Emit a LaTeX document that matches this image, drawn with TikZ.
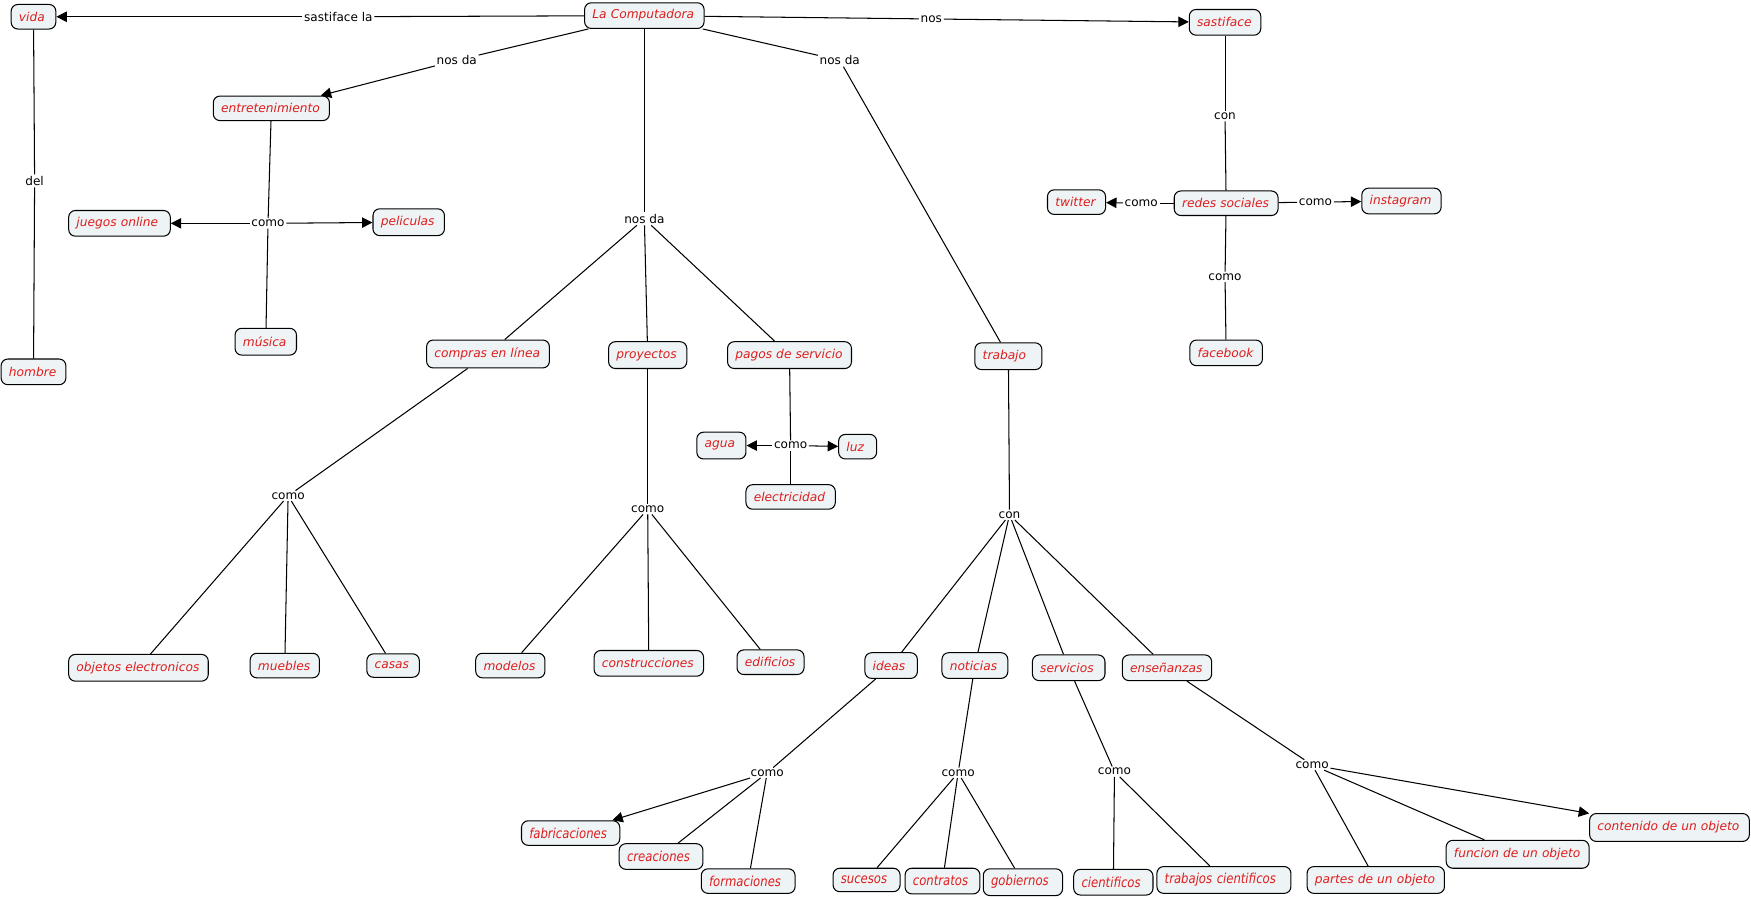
\documentclass[tikz,border=0pt]{standalone}
\usepackage{fontspec}
\setmainfont{DejaVu Sans}
\newfontfamily\condfont[FakeStretch=0.85]{DejaVu Sans}
\usetikzlibrary{arrows.meta}
\newlength\pxu
\setlength\pxu{0.75pt}
\definecolor{cfill}{RGB}{238,243,245}
\definecolor{ctext}{RGB}{222,30,30}
\tikzset{
  cpt/.style={draw=black, line width=0.7pt, fill=cfill, rounded corners=4.5pt,
    font=\fontsize{8.2pt}{9.5pt}\selectfont\itshape, text=ctext,
    inner xsep=7\pxu, inner ysep=1pt, minimum height=23\pxu},
  bw/.style={minimum width=#1\pxu, text width={(#1-14)*0.75pt}, align=left},
  cond/.style={font=\condfont\fontsize{9.2pt}{10pt}\selectfont\itshape},
  lbl/.style={fill=white, inner sep=1pt, font=\fontsize{8.1pt}{9.5pt}\selectfont, text=black},
  ln/.style={line width=0.7pt, draw=black},
  arr/.style={ln, -{Triangle[length=7pt,width=7pt]}}
}
\begin{document}
\begin{tikzpicture}[x=0.75pt,y=-0.75pt]
\useasboundingbox (0,0) rectangle (1568,805);
% concepts
\node[cpt, bw=40, minimum height=22\pxu] (vida) at (30,15) {vida};
\node[cpt, bw=107] (comp) at (577,14) {La Computadora};
\node[cpt, bw=64] (sast) at (1097,20) {sastiface};
\node[cpt, bw=104, minimum height=22\pxu] (entre) at (243,97) {entretenimiento};
\node[cpt, bw=91] (juegos) at (107,200) {juegos online};
\node[cpt, bw=64, minimum height=24\pxu] (pelis) at (366,199) {peliculas};
\node[cpt, bw=55, minimum height=24\pxu] (musica) at (238,306) {música};
\node[cpt, bw=58] (hombre) at (30,333) {hombre};
\node[cpt, bw=110, minimum height=25\pxu] (compras) at (437,317) {compras en línea};
\node[cpt, bw=70, minimum height=24\pxu] (proy) at (580,318) {proyectos};
\node[cpt, bw=111, minimum height=24\pxu] (pagos) at (707,318) {pagos de servicio};
\node[cpt, bw=60, minimum height=24\pxu] (trabajo) at (903,319) {trabajo};
\node[cpt, bw=52, minimum height=22\pxu] (twitter) at (964,181) {twitter};
\node[cpt, bw=93, minimum height=22\pxu] (redes) at (1098,182) {redes sociales};
\node[cpt, bw=71] (insta) at (1255,180) {instagram};
\node[cpt, bw=65] (face) at (1098,316) {facebook};
\node[cpt, bw=44, minimum height=24\pxu] (agua) at (646,399) {agua};
\node[cpt, bw=34, minimum height=22\pxu] (luz) at (768,400) {luz};
\node[cpt, bw=80, minimum height=22\pxu] (elec) at (708,445) {electricidad};
\node[cpt, bw=125, minimum height=24\pxu] (objetos) at (124,598) {objetos electronicos};
\node[cpt, bw=62, minimum height=22\pxu] (muebles) at (255,596) {muebles};
\node[cpt, bw=47, minimum height=21\pxu] (casas) at (352,596) {casas};
\node[cpt, bw=62, minimum height=22\pxu] (modelos) at (457,596) {modelos};
\node[cpt, bw=98] (constr) at (581,594) {construcciones};
\node[cpt, bw=60, minimum height=22\pxu] (edif) at (690,593) {edificios};
\node[cpt, bw=47] (ideas) at (798,596) {ideas};
\node[cpt, bw=59] (noticias) at (873,596) {noticias};
\node[cpt, bw=65] (servicios) at (957,598) {servicios};
\node[cpt, bw=80] (ensen) at (1045,598) {enseñanzas};
\node[cpt, cond, bw=88, minimum height=22\pxu] (fabric) at (511,746) {fabricaciones};
\node[cpt, cond, bw=75] (creac) at (592,767) {creaciones};
\node[cpt, cond, bw=84, minimum height=22\pxu] (formac) at (670,789) {formaciones};
\node[cpt, cond, bw=60, minimum height=21\pxu] (sucesos) at (776,788) {sucesos};
\node[cpt, cond, bw=67] (contratos) at (844,789) {contratos};
\node[cpt, cond, bw=71, minimum height=24\pxu] (gobiernos) at (916,790) {gobiernos};
\node[cpt, cond, bw=71] (cientif) at (997,790) {cientificos};
\node[cpt, cond, bw=120, minimum height=24\pxu] (trabcien) at (1096,788) {trabajos cientificos};
\node[cpt, bw=123, minimum height=24\pxu] (partes) at (1232,788) {partes de un objeto};
\node[cpt, bw=128, minimum height=25\pxu] (funcion) at (1359,765) {funcion de un objeto};
\node[cpt, bw=143, minimum height=25\pxu] (contenido) at (1495,741) {contenido de un objeto};
% linking phrases
\node[lbl] (lsat) at (303,15) {sastiface la};
\node[lbl] (lnd1) at (409,54) {nos da};
\node[lbl] (lnos) at (834,17) {nos};
\node[lbl] (lnd2) at (752,54) {nos da};
\node[lbl] (lnd3) at (577,196) {nos da};
\node[lbl] (ldel) at (31,162) {del};
\node[lbl] (lc1) at (240,200) {como};
\node[lbl] (lcon1) at (1097,104) {con};
\node[lbl] (lc2) at (1022,182) {como};
\node[lbl] (lc3) at (1178,181) {como};
\node[lbl] (lc4) at (1097,248) {como};
\node[lbl] (lc5) at (258,444) {como};
\node[lbl] (lc6) at (580,456) {como};
\node[lbl] (lc7) at (708,399) {como};
\node[lbl] (lcon2) at (904,461) {con};
\node[lbl] (lc8) at (687,692) {como};
\node[lbl] (lc9) at (858,692) {como};
\node[lbl] (lc10) at (998,691) {como};
\node[lbl] (lc11) at (1175,685) {como};
% connectors
\draw[ln] (comp) -- (lsat); \draw[arr] (lsat) -- (vida);
\draw[ln] (comp) -- (lnd1); \draw[arr] (lnd1) -- (entre);
\draw[ln] (comp) -- (lnos); \draw[arr] (lnos) -- (sast);
\draw[ln] (comp) -- (lnd2); \draw[ln] (lnd2) -- (trabajo);
\draw[ln] (comp) -- (lnd3);
\draw[ln] (lnd3) -- (compras); \draw[ln] (lnd3) -- (proy); \draw[ln] (lnd3) -- (pagos);
\draw[ln] (vida) -- (ldel); \draw[ln] (ldel) -- (hombre);
\draw[ln] (entre) -- (lc1); \draw[arr] (lc1) -- (juegos); \draw[arr] (lc1) -- (pelis); \draw[ln] (lc1) -- (musica);
\draw[ln] (sast) -- (lcon1); \draw[ln] (lcon1) -- (redes);
\draw[ln] (redes) -- (lc2); \draw[arr] (lc2) -- (twitter);
\draw[ln] (redes) -- (lc3); \draw[arr] (lc3) -- (insta);
\draw[ln] (redes) -- (lc4); \draw[ln] (lc4) -- (face);
\draw[ln] (compras) -- (lc5); \draw[ln] (lc5) -- (objetos); \draw[ln] (lc5) -- (muebles); \draw[ln] (lc5) -- (casas);
\draw[ln] (proy) -- (lc6); \draw[ln] (lc6) -- (modelos); \draw[ln] (lc6) -- (constr); \draw[ln] (lc6) -- (edif);
\draw[ln] (pagos) -- (lc7); \draw[arr] (lc7) -- (agua); \draw[arr] (lc7) -- (luz); \draw[ln] (lc7) -- (elec);
\draw[ln] (trabajo) -- (lcon2);
\draw[ln] (lcon2) -- (ideas); \draw[ln] (lcon2) -- (noticias); \draw[ln] (lcon2) -- (servicios); \draw[ln] (lcon2) -- (ensen);
\draw[ln] (ideas) -- (lc8); \draw[arr] (lc8) -- (fabric); \draw[ln] (lc8) -- (creac); \draw[ln] (lc8) -- (formac);
\draw[ln] (noticias) -- (lc9); \draw[ln] (lc9) -- (sucesos); \draw[ln] (lc9) -- (contratos); \draw[ln] (lc9) -- (gobiernos);
\draw[ln] (servicios) -- (lc10); \draw[ln] (lc10) -- (cientif); \draw[ln] (lc10) -- (trabcien);
\draw[ln] (ensen) -- (lc11); \draw[ln] (lc11) -- (partes); \draw[ln] (lc11) -- (funcion); \draw[arr] (lc11) -- (contenido);
\end{tikzpicture}
\end{document}
